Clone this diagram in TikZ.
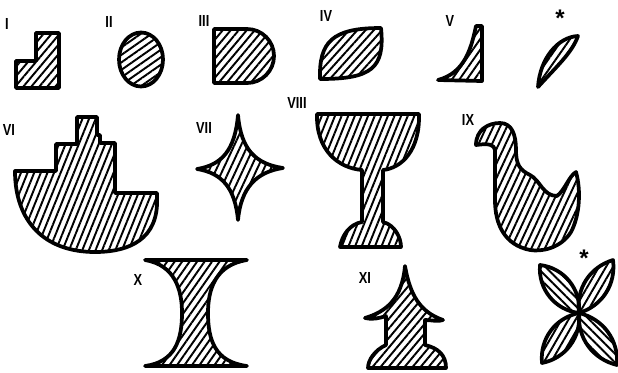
\documentclass[tikz,border=0pt]{standalone}
\usepackage{fontspec}
\newfontfamily\labfont{Liberation Sans}
\usetikzlibrary{patterns.meta}
\tikzset{
  shp/.style={draw=black, line width=2.8pt, line join=round, line cap=round,
    pattern={Lines[angle=#1,distance=4.6pt,line width=1.45pt]}},
  shp/.default=58,
  lab/.style={font=\labfont\bfseries\fontsize{12}{12}\selectfont, inner sep=0pt, xscale=0.8},
  star/.style={font=\labfont\bfseries\fontsize{18}{18}\selectfont, inner sep=0pt}
}
\begin{document}
\begin{tikzpicture}[x=0.75pt,y=-0.75pt]
\useasboundingbox[fill=white] (0,0) rectangle (618,372);

% labels
\node[lab] (lI) at (7,24) {I};
\node[lab] (lII) at (109,22) {II};
\node[lab] (lIII) at (204,21) {III};
\node[lab] (lIV) at (326,16) {IV};
\node[lab] (lV) at (450,21) {V};
\node[star] (s1) at (560,18) {*};
\node[lab] (lVI) at (9,130) {VI};
\node[lab] (lVII) at (204,128) {VII};
\node[lab] (lVIII) at (297,103) {VIII};
\node[lab] (lIX) at (468,120) {IX};
\node[lab] (lX) at (138,280) {X};
\node[lab] (lXI) at (365,278) {XI};
\node[star] (s2) at (584,258) {*};

% I : L-shape
\path[shp=50] (16,61) -- (36,61) -- (36,33) -- (59,33) -- (59,88) -- (16,88) -- cycle;

% II : ellipse
\path[shp=35] (141,59.5) ellipse [x radius=22, y radius=27];

% III : D-shape
\path[shp=50] (214,29) -- (247,29) arc[start angle=-90, end angle=90, radius=27] -- (214,83) -- cycle;

% IV : leaf
\path[shp=48] (320,79) .. controls (319,42) and (332,28) .. (381,28)
  .. controls (385,68) and (372,79) .. (320,79) -- cycle;

% V : concave triangle
\path[shp=55] (438,80) .. controls (464,73) and (471,50) .. (476,26) -- (482,26) -- (482,81) -- cycle;

% * : thin crescent
\path[shp=55] (538,87) .. controls (540,58) and (558,37) .. (578,36)
  .. controls (572,53) and (556,67) .. (538,87) -- cycle;

% VI : ship
\path[shp=68] (15,171) -- (56,171) -- (56,144) -- (77,144) -- (77,117) -- (97,117)
  -- (97,135) -- (100,135) -- (100,143) -- (115,143) -- (115,193) -- (157,193) -- (157,205)
  .. controls (155,244) and (122,252) .. (95,252)
  .. controls (45,252) and (15,222) .. (15,171) -- cycle;

% VII : four-pointed star
\path[shp=65] (197,169) .. controls (222,165) and (235,150) .. (238,115)
  .. controls (241,150) and (256,164) .. (283,168)
  .. controls (256,172) and (241,188) .. (238,220)
  .. controls (235,188) and (222,173) .. (197,169) -- cycle;

% VIII : goblet
\path[shp=68] (317,114) -- (419,114) .. controls (420,150) and (402,168) .. (383,170)
  -- (383,222) .. controls (395,225) and (401,238) .. (401,247) -- (340,247)
  .. controls (342,235) and (350,224) .. (362,222) -- (362,170)
  .. controls (338,168) and (316,150) .. (317,114) -- cycle;

% IX : swan
\path[shp=65] (476,145) .. controls (476,130) and (488,123) .. (500,123)
  .. controls (512,123) and (516,135) .. (516,150)
  .. controls (516,165) and (520,170) .. (530,175)
  .. controls (540,180) and (543,196) .. (557,196)
  .. controls (565,190) and (569,176) .. (576,172)
  .. controls (581,190) and (580,215) .. (571,232)
  .. controls (561,248) and (542,252) .. (530,250)
  .. controls (505,245) and (495,225) .. (495,200)
  -- (495,150) .. controls (494,145) and (490,143) .. (476,145) -- cycle;

% X : hourglass
\path[shp=55] (145,260) -- (247,260) .. controls (215,265) and (208,290) .. (208,313)
  .. controls (208,340) and (215,362) .. (247,366) -- (145,366)
  .. controls (175,362) and (182,340) .. (182,313)
  .. controls (182,290) and (175,265) .. (145,260) -- cycle;

% XI : pagoda
\path[shp=50] (405,266) .. controls (402,300) and (385,312) .. (365,318)
  .. controls (372,320) and (380,318) .. (386,316) -- (386,345)
  .. controls (375,350) and (368,360) .. (368,368) -- (446,368)
  .. controls (446,355) and (438,348) .. (425,345) -- (425,320)
  .. controls (432,320) and (438,322) .. (443,320)
  .. controls (420,312) and (410,295) .. (405,266) -- cycle;

% flower
\coordinate (fc) at (579,313);
\coordinate (f1) at (540,265);
\coordinate (f2) at (613,260);
\coordinate (f3) at (542,363);
\coordinate (f4) at (617,365);
\path[shp=-45] (fc) to[bend left=44] (f1) to[bend left=44] (fc);
\path[shp=60] (fc) to[bend left=40] (f2) to[bend left=40] (fc);
\path[shp=60] (fc) to[bend left=42] (f3) to[bend left=42] (fc);
\path[shp=-45] (fc) to[bend left=40] (f4) to[bend left=40] (fc);
\end{tikzpicture}
\end{document}
